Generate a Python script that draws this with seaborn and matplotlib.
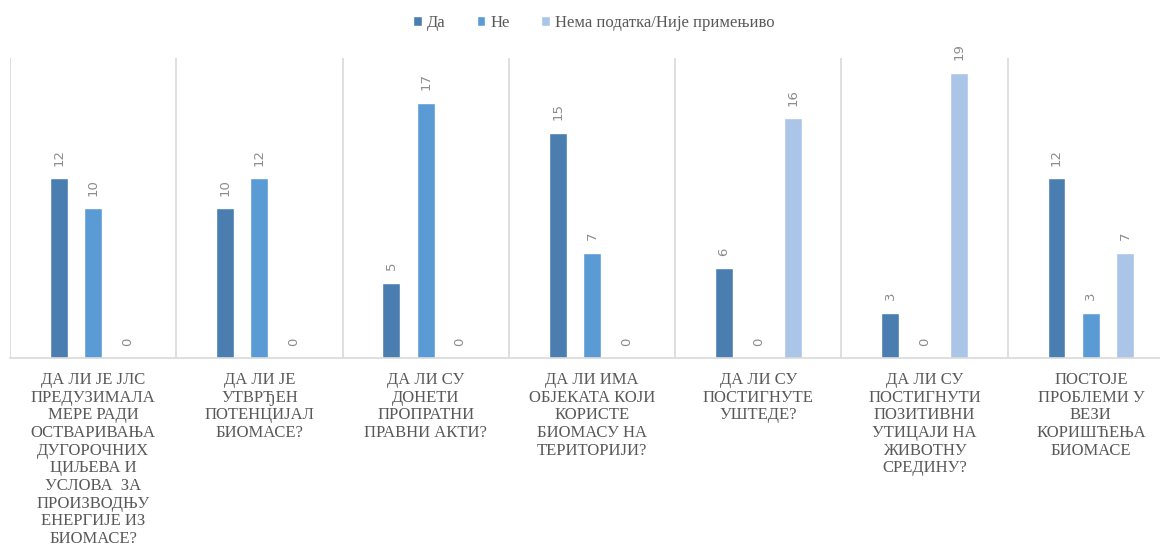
import matplotlib
matplotlib.use("Agg")
import matplotlib.pyplot as plt
import seaborn as sns
import pandas as pd

categories = [
    "ДА ЛИ ЈЕ ЈЛС\nПРЕДУЗИМАЛА\nМЕРЕ РАДИ\nОСТВАРИВАЊА\nДУГОРОЧНИХ\nЦИЉЕВА И\nУСЛОВА  ЗА\nПРОИЗВОДЊУ\nЕНЕРГИЈЕ ИЗ\nБИОМАСЕ?",
    "ДА ЛИ ЈЕ\nУТВРЂЕН\nПОТЕНЦИЈАЛ\nБИОМАСЕ?",
    "ДА ЛИ СУ\nДОНЕТИ\nПРОПРАТНИ\nПРАВНИ АКТИ?",
    "ДА ЛИ ИМА\nОБЈЕКАТА КОЈИ\nКОРИСТЕ\nБИОМАСУ НА\nТЕРИТОРИЈИ?",
    "ДА ЛИ СУ\nПОСТИГНУТЕ\nУШТЕДЕ?",
    "ДА ЛИ СУ\nПОСТИГНУТИ\nПОЗИТИВНИ\nУТИЦАЈИ НА\nЖИВОТНУ\nСРЕДИНУ?",
    "ПОСТОЈЕ\nПРОБЛЕМИ У\nВЕЗИ\nКОРИШЋЕЊА\nБИОМАСЕ",
]
series_names = ["Да", "Не", "Нема податка/Није примењиво"]
da_values = [12, 10, 5, 15, 6, 3, 12]
ne_values = [10, 12, 17, 7, 0, 0, 3]
nema_values = [0, 0, 0, 0, 16, 19, 7]

colors = ["#4a7eb0", "#5b9bd5", "#abc5e8"]

rows = []
for series, vals in zip(series_names, [da_values, ne_values, nema_values]):
    for cat, v in zip(categories, vals):
        rows.append({"category": cat, "series": series, "value": v})
df = pd.DataFrame(rows)

sns.set_style("white")
plt.rcParams["font.family"] = ["DejaVu Sans"]

fig = plt.figure(figsize=(11.6, 5.46), dpi=100)
# plot area runs slightly past the right edge of the canvas
ax = fig.add_axes([10 / 1160, 1 - 358 / 546, 1164 / 1160, 300 / 546])

sns.barplot(data=df, x="category", y="value", hue="series",
            palette=colors, width=0.62, gap=0.48, ax=ax,
            legend=True, saturation=1, order=categories,
            hue_order=series_names)

for cont in ax.containers:
    ax.bar_label(cont, padding=9, rotation=90, fontsize=9.5, color="#8c8c8c",
                 family=["Liberation Sans Narrow", "DejaVu Sans"])

ax.set_ylim(0, 20)
ax.set_xlim(-0.5, len(categories) - 0.5)
for i in range(len(categories) + 1):
    ax.axvline(i - 0.5, color="#d9d9d9", lw=1.2, zorder=0)

for s in ["top", "right", "left"]:
    ax.spines[s].set_visible(False)
ax.spines["bottom"].set_color("#d9d9d9")
ax.spines["bottom"].set_linewidth(1.2)

ax.set_yticks([])
ax.set_xlabel("")
ax.set_ylabel("")
ax.tick_params(axis="x", length=0, pad=10)
ax.set_xticks(range(len(categories)))
ax.set_xticklabels(categories, family="Liberation Serif", fontsize=12,
                   color="#595959", linespacing=1.14, va="top")

handles, labels = ax.get_legend_handles_labels()
ax.get_legend().remove()
fig.legend(handles, labels, loc="upper center", bbox_to_anchor=(0.512, 1.0),
           ncol=3, frameon=False, handlelength=0.5, handleheight=0.5,
           handletextpad=0.3, columnspacing=1.9,
           prop={"family": "Liberation Serif", "size": 12},
           labelcolor="#595959")

fig.savefig("out.png", dpi=100)
